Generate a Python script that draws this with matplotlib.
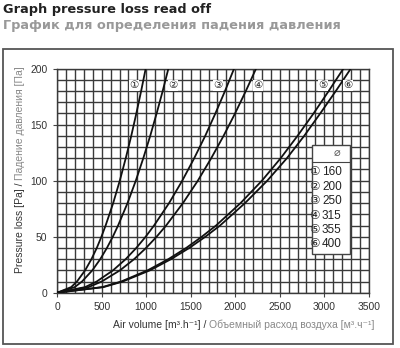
import numpy as np
import matplotlib
matplotlib.use("Agg")
import matplotlib.pyplot as plt
from matplotlib.patches import Rectangle

plt.rcParams['font.family'] = ['Liberation Sans', 'DejaVu Sans', 'Noto Sans CJK JP']

dp = [0, 5, 10, 20, 30, 40, 50, 60, 80, 100, 120, 140, 160, 180, 200]
q_160 = [0, 157, 222, 314, 385, 445, 497, 544, 629, 703, 770, 832, 889, 943, 994]
q_200 = [0, 197, 279, 395, 484, 559, 625, 684, 790, 883, 967, 1045, 1117, 1185, 1249]
q_250 = [0, 314, 444, 628, 770, 889, 994, 1088, 1257, 1405, 1539, 1663, 1777, 1885, 1987]
q_315 = [0, 353, 500, 706, 865, 999, 1117, 1224, 1413, 1580, 1730, 1869, 1998, 2119, 2234]
q_355 = [0, 508, 719, 1017, 1250, 1450, 1625, 1785, 2060, 2300, 2510, 2700, 2880, 3050, 3215]
q_400 = [0, 521, 737, 1043, 1280, 1485, 1665, 1830, 2110, 2360, 2580, 2775, 2955, 3130, 3298]

curves = [q_160, q_200, q_250, q_315, q_355, q_400]
marks = ['①', '②', '③', '④', '⑤', '⑥']
diam = ['160', '200', '250', '315', '355', '400']
mark_x = [863, 1305, 1810, 2260, 2983, 3271]
mark_y = 185

W, H = 400, 348
fig = plt.figure(figsize=(W / 100, H / 100), dpi=100)

# outer frame
fig.patches.append(Rectangle((3 / W, 4 / H), 390 / W, 295 / H, transform=fig.transFigure,
                             fill=False, edgecolor='#555555', lw=1.3))

fig.text(3 / W, 1 - 9 / H, 'Graph pressure loss read off', fontsize=9.3, weight='bold',
         color='#222222', va='center', family='DejaVu Sans')
fig.text(3 / W, 1 - 26 / H, 'График для определения падения давления', fontsize=9.3,
         weight='bold', color='#999999', va='center', family='DejaVu Sans')

ax = fig.add_axes([57.2 / W, 55.3 / H, 311.5 / W, 224 / H])
ax.set_xlim(0, 3500)
ax.set_ylim(0, 200)
ax.set_xticks(np.arange(0, 3501, 500))
ax.set_yticks(np.arange(0, 201, 50))
ax.set_xticks(np.arange(0, 3501, 100), minor=True)
ax.set_yticks(np.arange(0, 201, 10), minor=True)
ax.grid(which='both', color='#3a3a3a', lw=1.0)
ax.tick_params(which='minor', length=0)
ax.tick_params(which='major', length=3, color='#444444', labelsize=7.4, labelcolor='#333333', pad=4)
for s in ax.spines.values():
    s.set_color('#3a3a3a')
    s.set_linewidth(1.0)
ax.set_axisbelow(True)

for q in curves:
    ax.plot(q, dp, color='#111111', lw=1.3, zorder=3)

for m, x in zip(marks, mark_x):
    ax.text(x, mark_y, m, fontsize=7.5, ha='center', va='center', color='#222222', zorder=4,
            bbox=dict(boxstyle='square,pad=0.05', fc='white', ec='none'))

# legend box
ax.add_patch(Rectangle((2860, 35), 430, 97, facecolor='white', edgecolor='#444444', lw=1.0, zorder=5))
ax.plot([2860, 3290], [117, 117], color='#444444', lw=0.8, zorder=6)
ax.text(3140, 124.5, '⌀', fontsize=8, ha='center', va='center', color='#555555', zorder=6,
        family='DejaVu Sans')
rows = [107.5, 94.6, 81.9, 68.8, 56, 43.5]
for m, d, y in zip(marks, diam, rows):
    ax.text(2948, y, m, fontsize=8.5, ha='right', va='center', color='#222222', zorder=6)
    ax.text(2975, y, d, fontsize=8.5, ha='left', va='center', color='#222222', zorder=6)

# two-colour axis labels
fig.canvas.draw()
r = fig.canvas.get_renderer()
t1 = fig.text(113 / W, 1 - 325 / H, 'Air volume [m³.h⁻¹] / ', fontsize=7.5, color='#333333',
              va='center', ha='left')
w1 = t1.get_window_extent(r).width
fig.text((113 + w1) / W, 1 - 325 / H, 'Объемный расход воздуха [м³.ч⁻¹]', fontsize=7.5,
         color='#888888', va='center', ha='left')

t2 = fig.text(20 / W, 1 - 273 / H, 'Pressure loss [Pa] / ', fontsize=7.5, color='#333333',
              rotation=90, ha='center', va='bottom')
h2 = t2.get_window_extent(r).height
fig.text(20 / W, (H - 273 + h2) / H, 'Падение давления [Па]', fontsize=7.5, color='#888888',
         rotation=90, ha='center', va='bottom')

fig.savefig('out.png', dpi=100)
